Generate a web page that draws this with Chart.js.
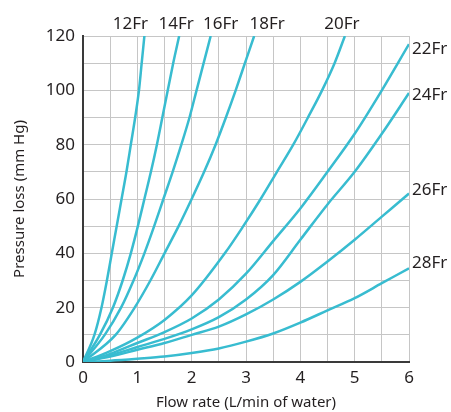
<!DOCTYPE html>
<html>
<head>
<meta charset="utf-8">
<script src="https://cdn.jsdelivr.net/npm/chart.js@4.4.1/dist/chart.umd.min.js"></script>
<style>
  html, body { margin: 0; padding: 0; background: #fff; }
</style>
</head>
<body>
<canvas id="lossChart" width="451" height="412"></canvas>
<script>
// catheter sizes, one curve each
const sizes = ['12Fr', '14Fr', '16Fr', '18Fr', '20Fr', '22Fr', '24Fr', '26Fr', '28Fr'];

// [flow rate (L/min), pressure loss (mm Hg)]
const fr12 = [[0,0],[0.21,10],[0.34,20],[0.44,30],[0.53,40],[0.62,50],[0.71,60],[0.8,70],[0.88,80],[0.96,90],[1.03,100],[1.08,110],[1.13,120]];
const fr14 = [[0,0],[0.31,10],[0.55,20],[0.73,30],[0.88,40],[1.01,50],[1.13,60],[1.25,70],[1.36,80],[1.46,90],[1.56,100],[1.66,110],[1.77,120]];
const fr16 = [[0,0],[0.4,10],[0.7,20],[0.93,30],[1.13,40],[1.31,50],[1.48,60],[1.65,70],[1.81,80],[1.96,90],[2.09,100],[2.22,110],[2.35,120]];
const fr18 = [[0,0],[0.6,10],[0.95,20],[1.24,30],[1.5,40],[1.76,50],[2.0,60],[2.23,70],[2.44,80],[2.63,90],[2.81,100],[2.98,110],[3.15,120]];
const fr20 = [[0,0],[0.5,4],[1,9],[1.5,15.5],[2,24.5],[2.61,40],[2.95,50],[3.27,60],[3.57,70],[3.87,80],[4.14,90],[4.4,100],[4.63,110],[4.82,120]];
const fr22 = [[0,0],[0.5,3],[1,7],[1.5,11],[2,16],[2.5,23],[3,32.5],[3.5,44.5],[4,56.5],[4.5,70],[5,84],[5.5,100],[6,117]];
const fr24 = [[0,0],[0.5,2.5],[1,5.5],[1.5,8.5],[2,12],[2.5,16.5],[3,23],[3.5,32],[4,45],[4.5,58],[5,70],[5.5,84],[6,99]];
const fr26 = [[0,0],[0.5,2],[1,4.5],[1.5,7],[2,10],[2.5,13],[3,17.5],[3.5,23],[4,29.5],[4.5,37],[5,45],[5.5,53.5],[6,62]];
const fr28 = [[0,0],[0.5,0.5],[1,1.2],[1.5,2],[2,3.3],[2.5,5],[3,7.5],[3.5,10.5],[4,14.5],[4.5,19],[5,23.5],[5.5,29],[6,34.5]];

const series = [fr12, fr14, fr16, fr18, fr20, fr22, fr24, fr26, fr28];

const xTicks = [0, 1, 2, 3, 4, 5, 6];
const yTicks = [0, 20, 40, 60, 80, 100, 120];

const lineColor = '#38bcd0';
const textColor = '#231f20';
const fontFamily = '"Noto Sans", "Open Sans", sans-serif';

// puts the "xxFr" name at the end of each curve
const seriesLabels = {
    id: 'seriesLabels',
    afterDraw(chart, args, opts) {
        const ctx = chart.ctx;
        const xs = chart.scales.x, ys = chart.scales.y;
        ctx.save();
        ctx.font = opts.font;
        ctx.fillStyle = opts.color;
        chart.data.datasets.forEach((ds, i) => {
            const last = ds.data[ds.data.length - 1];
            const px = xs.getPixelForValue(last.x);
            const py = ys.getPixelForValue(last.y);
            const off = opts.offsets[i] || [0, 0];
            ctx.textBaseline = 'middle';
            if (last.y >= ys.max) {
                ctx.textAlign = 'center';
                ctx.fillText(ds.label, px + off[0], chart.chartArea.top - 12 + off[1]);
            } else {
                ctx.textAlign = 'left';
                ctx.fillText(ds.label, chart.chartArea.right + 3 + off[0], py + off[1]);
            }
        });
        ctx.restore();
    }
};

var ctx = document.getElementById('lossChart').getContext('2d');
var lossChart = new Chart(ctx, {
    type: 'scatter',
    data: {
        datasets: series.map((pts, i) => ({
            label: sizes[i],
            data: pts.map(p => ({x: p[0], y: p[1]})),
            showLine: true,
            borderColor: lineColor,
            borderWidth: 2.5,
            pointRadius: 0,
            cubicInterpolationMode: 'monotone',
            fill: false
        }))
    },
    options: {
        responsive: false,
        animation: false,
        layout: { padding: { top: 36, right: 42, left: 0, bottom: 0 } },
        plugins: {
            legend: { display: false },
            tooltip: { enabled: false },
            seriesLabels: {
                font: '17px ' + fontFamily,
                color: textColor,
                offsets: [[-14, 0], [-3, 0], [10, 0], [13, 0], [-3, 0], [0, 5], [0, 2], [0, -3], [0, -5]]
            }
        },
        scales: {
            x: {
                type: 'linear',
                min: 0,
                max: 6,
                afterFit: s => { s.height = 50; },
                grid: { color: '#c6c6c6', lineWidth: 1, drawTicks: false },
                border: { color: '#3a3a3a', width: 2 },
                ticks: {
                    stepSize: 0.5,
                    autoSkip: false,
                    maxRotation: 0,
                    padding: 6,
                    color: textColor,
                    font: { family: fontFamily, size: 17 },
                    callback: v => xTicks.includes(v) ? v : ''
                },
                title: {
                    display: true,
                    text: 'Flow rate (L/min of water)',
                    color: textColor,
                    font: { family: fontFamily, size: 15 },
                    padding: 0
                }
            },
            y: {
                type: 'linear',
                min: 0,
                max: 120,
                afterFit: s => { s.width = 83; },
                grid: { color: '#c6c6c6', lineWidth: 1, drawTicks: false },
                border: { color: '#3a3a3a', width: 2 },
                ticks: {
                    stepSize: 10,
                    autoSkip: false,
                    padding: 8,
                    color: textColor,
                    font: { family: fontFamily, size: 17 },
                    callback: v => yTicks.includes(v) ? v : ''
                },
                title: {
                    display: true,
                    text: 'Pressure loss (mm Hg)',
                    color: textColor,
                    font: { family: fontFamily, size: 15 },
                    padding: 11
                }
            }
        }
    },
    plugins: [seriesLabels]
});
</script>
</body>
</html>
